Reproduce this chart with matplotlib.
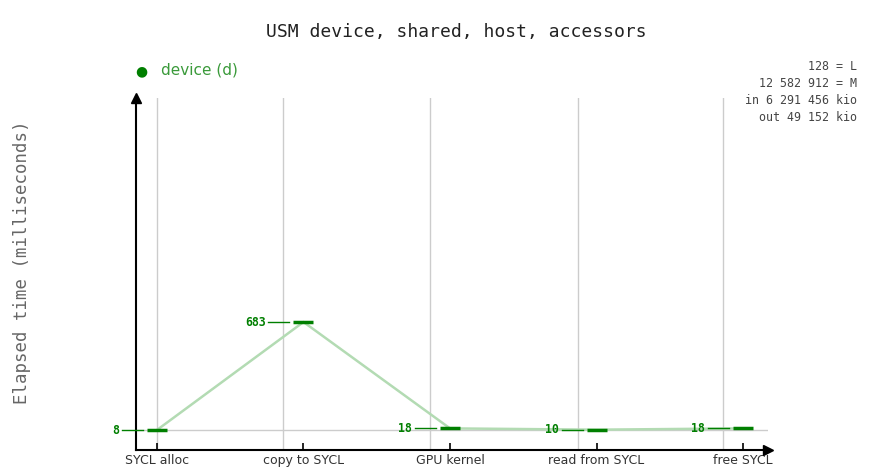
import matplotlib.pyplot as plt
from matplotlib.transforms import offset_copy

# données
steps = ["SYCL alloc", "copy to SYCL", "GPU kernel", "read from SYCL", "free SYCL"]
device_ms = [8, 683, 18, 10, 18]
grid_x = [0, 0.863, 1.863, 2.87, 3.863]
info_lines = ["128 = L", "12 582 912 = M", "in 6 291 456 kio", "out 49 152 kio"]

green = "#007f00"
light_green = "#b3dbb3"

fig = plt.figure(figsize=(8.76, 4.7), dpi=100)
ax = fig.add_axes([136 / 876, 20 / 470, 632 / 876, 352 / 470])

xs = list(range(len(steps)))
ax.set_xlim(-0.143, 4.17)
ax.set_ylim(-117, 2083)

# grille
for gx in grid_x:
    ax.axvline(gx, color="#cccccc", lw=1, zorder=0)
ax.axhline(device_ms[0], color="#cccccc", lw=1, zorder=0)

# courbe
ax.plot(xs, device_ms, color=light_green, lw=1.8, zorder=1)
ax.plot(xs, device_ms, ls="none", marker="_", markersize=14.4,
        markeredgewidth=2.5, color=green, zorder=2)

# étiquettes des valeurs
inv = fig.transFigure.inverted()
for x, v in zip(xs, device_ms):
    tr_a = offset_copy(ax.transData, fig=fig, x=-35, y=0, units="dots")
    tr_b = offset_copy(ax.transData, fig=fig, x=-14, y=0, units="dots")
    a = inv.transform(tr_a.transform((x, v)))
    b = inv.transform(tr_b.transform((x, v)))
    fig.add_artist(plt.Line2D([a[0], b[0]], [a[1], b[1]], color=green, lw=1))
    tr_t = offset_copy(ax.transData, fig=fig, x=-38, y=0, units="dots")
    ax.text(x, v, str(v), transform=tr_t, ha="right", va="center",
            family="DejaVu Sans Mono", fontsize=8.3, color=green,
            fontweight="bold", clip_on=False)

# axes
for s in ["top", "right"]:
    ax.spines[s].set_visible(False)
for s in ["left", "bottom"]:
    ax.spines[s].set_linewidth(1.5)
    ax.spines[s].set_color("black")
ax.plot([1], [0], marker=">", ms=7, color="black", transform=ax.transAxes, clip_on=False)
ax.plot([0], [1], marker="^", ms=7, color="black", transform=ax.transAxes, clip_on=False)

ax.set_xticks(xs)
ax.set_xticklabels(steps, fontsize=9, color="#333333")
ax.tick_params(axis="x", direction="in", length=5, width=1.2, pad=3)
ax.set_yticks([])

fig.text(456 / 876, 1 - 32 / 470, "USM device, shared, host, accessors",
         ha="center", va="center", family="DejaVu Sans Mono", fontsize=13, color="#222222")
fig.text(22 / 876, 1 - 262 / 470, "Elapsed time (milliseconds)", rotation=90,
         ha="center", va="center", family="DejaVu Sans Mono", fontsize=12.5, color="#666666")

# légende
fig.text(141 / 876, 1 - 71 / 470, "●", ha="center", va="center", fontsize=10, color=green)
fig.text(161 / 876, 1 - 70 / 470, "device (d)", ha="left", va="center",
         fontsize=11, color="#3a9a3a")

for i, line in enumerate(info_lines):
    fig.text(857 / 876, 1 - (67 + i * 16.7) / 470, line, ha="right", va="center",
             family="DejaVu Sans Mono", fontsize=8.4, color="#444444")

fig.savefig("out.png", dpi=100)
